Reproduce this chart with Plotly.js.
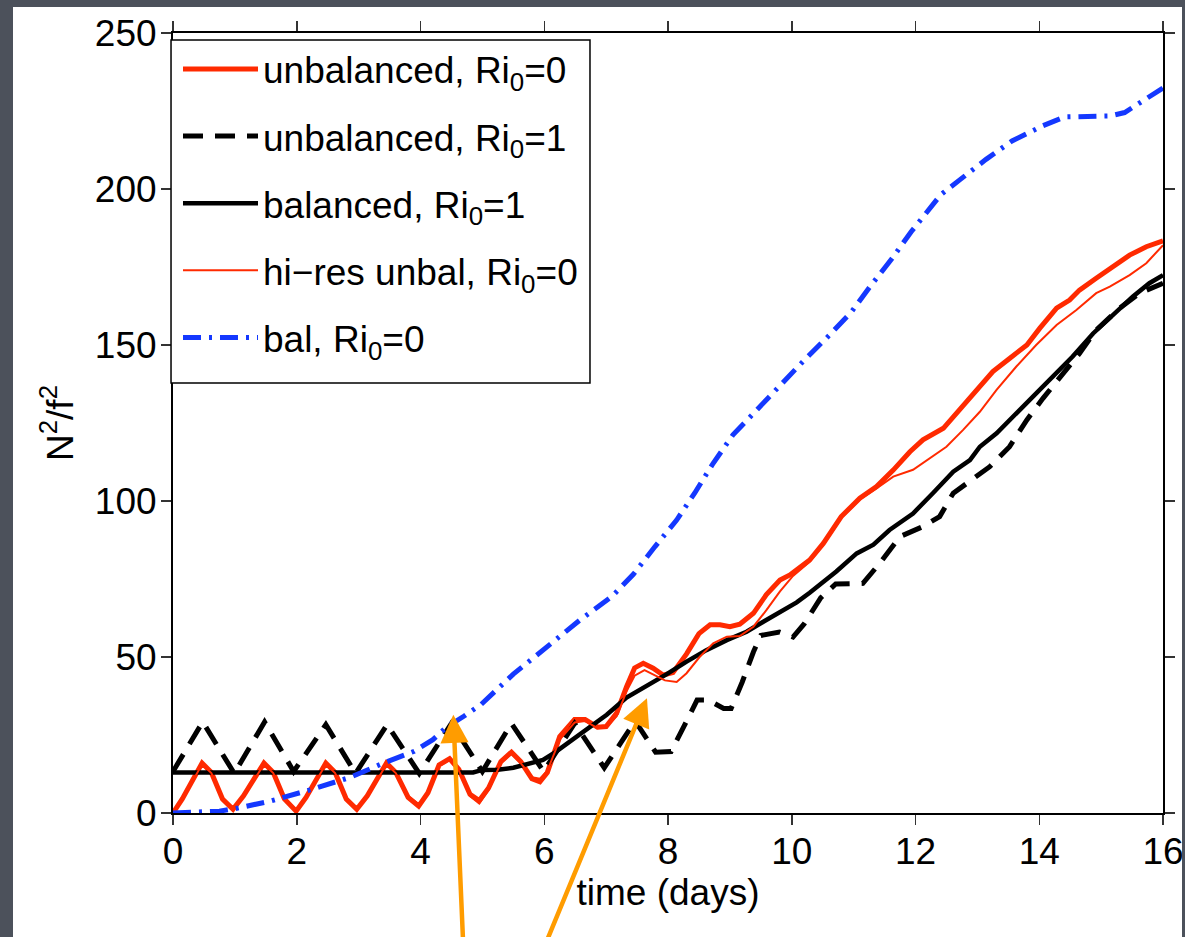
<!DOCTYPE html>
<html>
<head>
<meta charset="utf-8">
<script src="https://cdn.plot.ly/plotly-3.0.1.min.js"></script>
<style>
  html, body { margin: 0; padding: 0; background: #4c515b; width: 1185px; height: 937px; overflow: hidden; }
  #chart { position: absolute; left: 13px; top: 7px; width: 1169px; height: 930px; background: #ffffff; }
</style>
</head>
<body>
<div id="chart"></div>
<script>
// ---- data ----
const tUnbal0 = [0, 0.15, 0.47, 0.62, 0.8, 0.97, 1.14, 1.47, 1.62, 1.8, 1.99, 2.15, 2.47, 2.62, 2.8, 2.97,
  3.14, 3.45, 3.6, 3.8, 3.97, 4.12, 4.3, 4.47, 4.62, 4.8, 4.95, 5.1, 5.3, 5.47, 5.62, 5.8, 5.93,
  6.05, 6.25, 6.49, 6.66, 6.86, 7.0, 7.17, 7.33, 7.46, 7.6, 7.76, 7.92, 8.08, 8.3, 8.5, 8.68, 8.84,
  9.0, 9.16, 9.38, 9.59, 9.81, 9.97, 10.29, 10.51, 10.8, 11.1, 11.37, 11.64, 11.91, 12.12, 12.45,
  12.71, 12.99, 13.25, 13.52, 13.8, 14.01, 14.28, 14.49, 14.65, 14.92, 15.19, 15.46, 15.73, 16.0];
const vUnbal0 = [0, 4.5, 16, 13, 4.5, 1.2, 5.5, 16, 13, 4.5, 0.6, 5, 16, 13, 4.5, 1.2,
  5.5, 16, 13, 5, 2.2, 6.5, 15.4, 17.4, 14, 6, 4, 8, 16.5, 19.5, 16.5, 11, 10,
  13, 24.5, 30, 30, 27.5, 27.7, 32, 40.5, 46.5, 48, 46.4, 44.2, 45, 51, 57.5, 60.3, 60.3,
  59.7, 60.5, 64, 70, 74.7, 76.3, 81.1, 86.4, 95, 100.9, 104.6, 109.9, 115.8, 119.6, 123.3,
  129.2, 135, 141.5, 145.7, 150, 155.4, 161.8, 164.4, 167.6, 171.4, 175.1, 178.8, 181.5, 183.4];

const tUnbal1 = [0, 0.48, 0.99, 1.48, 1.95, 2.47, 2.95, 3.46, 3.98, 4.5, 5.0, 5.47, 5.99, 6.49, 6.97,
  7.47, 7.8, 8.05, 8.35, 8.47, 8.65, 8.9, 9.02, 9.2, 9.38, 9.5, 9.8, 10.02, 10.2, 10.47, 10.71,
  11.15, 11.42, 11.75, 12.12, 12.39, 12.61, 12.82, 13.2, 13.52, 13.8, 14.06, 14.39, 14.65, 14.92,
  15.3, 15.62, 16.0];
const vUnbal1 = [13.3, 29.2, 12.7, 29.2, 13.3, 28.3, 12.7, 28.3, 12.7, 28.7, 13.3, 28.7, 13.3, 28.7, 14.5,
  29.5, 19.5, 19.7, 31.4, 36.2, 36.2, 33.5, 33.5, 42, 51.6, 56.9, 58, 56.4, 60.6, 69, 73.4,
  73.6, 80, 88.6, 91.8, 95, 102.5, 105.7, 111, 117.4, 126, 132.9, 140.9, 147.3, 154.8,
  161.8, 166.6, 169.8];

const tBal1 = [0, 4.85, 5.0, 5.25, 5.5, 5.71, 5.98, 6.18, 6.3, 6.49, 6.68, 6.86, 7.01, 7.33, 7.65,
  7.98, 8.3, 8.62, 8.95, 9.27, 9.54, 9.81, 10.08, 10.29, 10.72, 11.05, 11.32, 11.58, 11.96, 12.28,
  12.61, 12.88, 13.04, 13.31, 13.63, 13.95, 14.22, 14.54, 14.87, 15.19, 15.51, 15.78, 16.0];
const vBal1 = [13, 13, 13.8, 13.9, 14.5, 15.5, 17, 19.5, 21.2, 24, 26.8, 29, 31.5, 37, 40.5,
  44.5, 48.5, 52.2, 55.4, 58.1, 61.3, 64.5, 67.5, 70.6, 77.4, 83.2, 86, 90.7, 96, 102.5,
  109.4, 113.1, 117.4, 121.7, 128.1, 134.5, 139.8, 146.3, 153.7, 159.6, 165.5, 169.8, 172.4];

const tHires0 = [0, 0.15, 0.47, 0.62, 0.8, 0.97, 1.14, 1.47, 1.62, 1.8, 1.99, 2.15, 2.47, 2.62, 2.8, 2.97,
  3.14, 3.45, 3.6, 3.8, 3.97, 4.12, 4.3, 4.47, 4.62, 4.8, 4.95, 5.1, 5.3, 5.47, 5.62, 5.8, 5.93,
  6.05, 6.25, 6.49, 6.66, 6.86, 7.0, 7.17, 7.33, 7.46, 7.62, 7.8, 7.95, 8.14, 8.3, 8.51, 8.73,
  8.95, 9.16, 9.38, 9.59, 9.81, 10.02, 10.29, 10.51, 10.8, 11.1, 11.37, 11.64, 11.96, 12.23, 12.5,
  12.77, 13.04, 13.31, 13.63, 13.95, 14.28, 14.6, 14.92, 15.14, 15.46, 15.73, 16.0];
const vHires0 = [0, 4.3, 15.6, 12.8, 4.8, 1.6, 5.2, 15.6, 12.8, 4.8, 1.0, 4.8, 15.6, 12.8, 4.8, 1.6,
  5.2, 15.6, 12.8, 5.4, 2.9, 6.2, 15, 17, 13.6, 5.4, 3.0, 7.4, 16, 19, 16, 11.5, 11,
  13.5, 23.5, 29, 29.5, 27.2, 27.5, 31, 39, 44, 45.8, 44, 42.5, 42, 44.8, 50, 54.4,
  56.5, 56.7, 59.7, 65, 71, 76, 80.5, 86, 94.5, 100.5, 104, 107.8, 110, 113.7, 117.4,
  122.8, 128.6, 135.6, 143.1, 150, 156.4, 161.2, 166.6, 168.7, 172.4, 176.2, 182];

const tBal0 = [0, 0.5, 0.75, 1.03, 1.57, 2.21, 2.86, 3.4, 3.9, 4.2, 4.42, 4.7, 4.98, 5.5, 6.04,
  6.58, 7.1, 7.44, 7.79, 8.14, 8.43, 8.73, 9.05, 9.43, 9.81, 10.18, 10.61, 10.96, 11.26, 11.62,
  11.93, 12.23, 12.41, 12.72, 13.14, 13.56, 14.05, 14.41, 14.78, 15.14, 15.38, 15.68, 16.0];
const vBal0 = [0, 0.4, 0.6, 1.5, 3.8, 7.4, 11.4, 16, 19.8, 23.5, 27.5, 31, 34.8, 44.5, 53,
  61.9, 69.5, 76.5, 85.4, 93.9, 102.5, 112.1, 121.2, 129.2, 137.2, 144.7, 153.2, 160.5, 168.6, 177.7,
  186.3, 193.9, 198.2, 203, 209.5, 215.4, 220.2, 223.1, 223.4, 223.4, 224.5, 228.3, 232.4];

const seriesNames = [
  'unbalanced, Ri<sub>0</sub>=0',
  'unbalanced, Ri<sub>0</sub>=1',
  'balanced, Ri<sub>0</sub>=1',
  'hi\u2212res unbal, Ri<sub>0</sub>=0',
  'bal, Ri<sub>0</sub>=0'
];
const xTitle = 'time (days)';
const yTitle = 'N<sup>2</sup>/f<sup>2</sup>';

// arrow annotations: [head x, head y, tail x, tail y]
const arrowHeads = [[4.53, 31.5, 4.69, -42], [7.66, 36.8, 6.02, -42]];

// ---- chart ----
const RED = '#ff2a00', BLUE = '#1438ff', ORANGE = '#ff9c00';
const FONT = 'Liberation Sans, Arial, Helvetica, sans-serif';

const traces = [
  {x: tUnbal0, y: vUnbal0, name: seriesNames[0], line: {color: RED, width: 5}},
  {x: tUnbal1, y: vUnbal1, name: seriesNames[1], line: {color: '#000', width: 5, dash: '20px,12px'}},
  {x: tBal1, y: vBal1, name: seriesNames[2], line: {color: '#000', width: 4.5}},
  {x: tHires0, y: vHires0, name: seriesNames[3], line: {color: RED, width: 2}},
  {x: tBal0, y: vBal0, name: seriesNames[4], line: {color: BLUE, width: 5, dash: '18px,8px,3px,8px'}}
].map((t, i) => Object.assign(t, {type: 'scatter', mode: 'lines', legendgroup: 'g' + i}));

const axisCommon = {
  showline: true, linecolor: '#000', linewidth: 2, mirror: 'ticks',
  ticks: 'outside', ticklen: 10, tickwidth: 1.5, tickcolor: '#333',
  showgrid: false, zeroline: false, ticklabeloverflow: 'allow',
  tickfont: {family: FONT, size: 37, color: '#000'}
};

const layout = {
  width: 1169, height: 930,
  margin: {l: 160, r: 19, t: 26, b: 124},
  paper_bgcolor: '#ffffff', plot_bgcolor: '#ffffff',
  font: {family: FONT, color: '#000'},
  showlegend: true,
  xaxis: Object.assign({}, axisCommon, {
    range: [0, 16], dtick: 2, tick0: 0, ticklabelstandoff: -5,
    title: {text: xTitle, font: {family: FONT, size: 37, color: '#000'}, standoff: 2}
  }),
  yaxis: Object.assign({}, axisCommon, {
    range: [0, 250], dtick: 50, tick0: 0, ticklabelstandoff: -3,
    title: {text: yTitle, font: {family: FONT, size: 37, color: '#000'}, standoff: 10}
  }),
  legend: {
    x: 0.00505, y: 0.993, xanchor: 'left', yanchor: 'top',
    bgcolor: 'rgba(0,0,0,0)', borderwidth: 0,
    font: {family: FONT, size: 37, color: '#000'},
    traceorder: 'grouped', tracegroupgap: 16, itemwidth: 75
  },
  shapes: [{
    type: 'rect', xref: 'paper', yref: 'paper',
    x0: -0.002, x1: 0.4212, y0: 0.5513, y1: 0.991,
    fillcolor: '#ffffff', line: {color: '#000', width: 1.5}, layer: 'above'
  }],
  annotations: arrowHeads.map(a => ({
    x: a[0], y: a[1], ax: a[2], ay: a[3],
    xref: 'x', yref: 'y', axref: 'x', ayref: 'y',
    text: '', showarrow: true, arrowhead: 2, arrowsize: 1.25, arrowwidth: 4.5,
    arrowcolor: ORANGE, standoff: 0
  }))
};

Plotly.newPlot('chart', traces, layout, {displayModeBar: false, staticPlot: true});
</script>
</body>
</html>
